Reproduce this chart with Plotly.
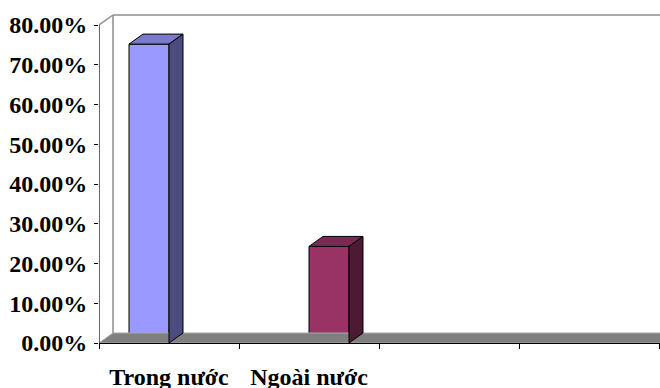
import plotly.graph_objects as go

# ---- data ----
categories = [1, 2, 3, 4]
category_labels = ["Trong nước", "Ngoài nước", "", ""]
series_names = ["Trong nước", "Ngoài nước"]
series1_values = [75.2, None, None, None]
series2_values = [None, 24.3, None, None]
y_ticks = [0, 10, 20, 30, 40, 50, 60, 70, 80]
y_tick_labels = [f"{v:.2f}%" for v in y_ticks]

front_colors = ["#9999FF", "#993366"]
top_colors = ["#7A7ACC", "#7A2952"]
side_colors = ["#4C4C80", "#4D1A33"]

# ---- geometry (pixels -> data units) ----
W, H = 660, 388
ML, MR, MT, MB = 99, 0, 14, 45
cat_px = 140.0
y_px_per_unit = 318.0 / 80.0
plot_w = W - ML - MR
plot_h = H - MT - MB
x_lo = 0.5
x_hi = x_lo + plot_w / cat_px
y_hi = plot_h / y_px_per_unit
dx = 14 / cat_px
dy = 10 / y_px_per_unit
bar_w = 40 / cat_px

fig = go.Figure()

all_series = [series1_values, series2_values]
offsets = [-bar_w, 0.0]

# floor
fig.add_trace(go.Scatter(
    x=[x_lo, x_lo + dx, x_hi + dx, x_hi, x_lo],
    y=[0, dy, dy, 0, 0],
    fill="toself", fillcolor="#808080", mode="lines",
    line=dict(color="#a6a6a6", width=1), hoverinfo="skip", showlegend=False))

for i, vals in enumerate(all_series):
    fig.add_trace(go.Bar(
        x=categories, y=vals, name=series_names[i], width=bar_w, offset=offsets[i],
        marker=dict(color=front_colors[i], line=dict(color="black", width=1)),
        showlegend=False))
    for c, v in zip(categories, vals):
        if v is None:
            continue
        x0 = c + offsets[i]
        x1 = x0 + bar_w
        fig.add_trace(go.Scatter(
            x=[x0, x0 + dx, x1 + dx, x1, x0],
            y=[v, v + dy, v + dy, v, v],
            fill="toself", fillcolor=top_colors[i], mode="lines",
            line=dict(color="black", width=1), hoverinfo="skip", showlegend=False))
        fig.add_trace(go.Scatter(
            x=[x1, x1 + dx, x1 + dx, x1, x1],
            y=[0, dy, v + dy, v, 0],
            fill="toself", fillcolor=side_colors[i], mode="lines",
            line=dict(color="black", width=1), hoverinfo="skip", showlegend=False))

wall_color = "#8c8c8c"
shapes = [
    dict(type="line", xref="x", yref="y", x0=x_lo + dx, y0=dy, x1=x_lo + dx, y1=80 + dy,
         line=dict(color=wall_color, width=1.5), layer="below"),
    dict(type="line", xref="x", yref="y", x0=x_lo + dx, y0=80 + dy, x1=x_hi + dx, y1=80 + dy,
         line=dict(color=wall_color, width=1.5), layer="below"),
    dict(type="line", xref="x", yref="y", x0=x_lo, y0=80, x1=x_lo + dx, y1=80 + dy,
         line=dict(color=wall_color, width=1.5), layer="below"),
    dict(type="line", xref="x", yref="y", x0=x_lo, y0=0, x1=x_lo, y1=80,
         line=dict(color="black", width=1.2), layer="above"),
]

font_family = "Liberation Serif"

fig.update_layout(
    template="none",
    width=W, height=H,
    margin=dict(l=ML, r=MR, t=MT, b=MB, pad=0),
    paper_bgcolor="white", plot_bgcolor="white",
    barmode="overlay",
    shapes=shapes,
    showlegend=False,
    xaxis=dict(
        automargin=False,
        range=[x_lo, x_hi], tickmode="array", tickvals=categories, ticktext=category_labels,
        ticks="", showgrid=False, zeroline=False, showline=True, linecolor="black", linewidth=1.2,
        tickfont=dict(family=font_family, size=24, color="black", weight="bold"),
        ticklabelstandoff=12,
        minor=dict(tickmode="array", tickvals=[0.5, 1.5, 2.5, 3.5, 4.5], ticks="outside",
                   ticklen=5, tickcolor="black", tickwidth=1, showgrid=False),
    ),
    yaxis=dict(
        automargin=False,
        range=[0, y_hi], tickmode="array", tickvals=y_ticks, ticktext=y_tick_labels,
        ticks="outside", ticklen=4, tickcolor="black", tickwidth=1,
        ticklabelstandoff=2,
        showgrid=False, zeroline=False, showline=False,
        tickfont=dict(family=font_family, size=24, color="black", weight="bold"),
    ),
)

fig.write_html(
    "out.html",
    config={"displayModeBar": False},
    post_script="document.body.style.margin='0';document.documentElement.style.overflow='hidden';",
)
